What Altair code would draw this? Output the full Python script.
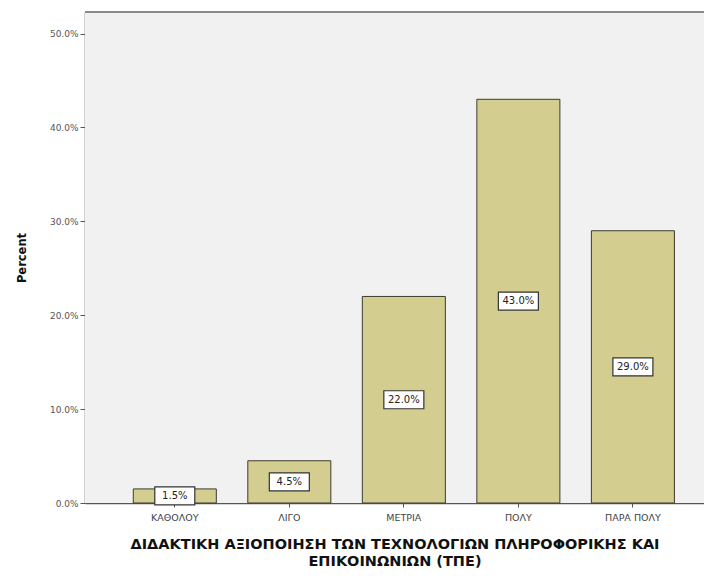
import altair as alt
import pandas as pd

categories = ["ΚΑΘΟΛΟΥ", "ΛΙΓΟ", "ΜΕΤΡΙΑ", "ΠΟΛΥ", "ΠΑΡΑ ΠΟΛΥ"]
percents = [1.5, 4.5, 22.0, 43.0, 29.0]
y_ticks = [0, 10, 20, 30, 40, 50]

df = pd.DataFrame({"cat": categories, "pct": percents})
df["mid"] = df["pct"] / 2
df["label"] = df["pct"].map(lambda v: f"{v:.1f}%")

FONT = "DejaVu Sans"
W, H = 619, 491

x_enc = alt.X(
    "cat:N",
    sort=categories,
    scale=alt.Scale(paddingInner=0.275, paddingOuter=0.34, align=0.62),
    axis=alt.Axis(
        title=["ΔΙΔΑΚΤΙΚΗ ΑΞΙΟΠΟΙΗΣΗ ΤΩΝ ΤΕΧΝΟΛΟΓΙΩΝ ΠΛΗΡΟΦΟΡΙΚΗΣ ΚΑΙ",
               "ΕΠΙΚΟΙΝΩΝΙΩΝ (ΤΠΕ)"],
        titleFont=FONT, titleFontSize=14.5, titleFontWeight="bold", titleColor="#111",
        titleLineHeight=16.5, titlePadding=16,
        labelFont=FONT, labelFontSize=9.5, labelColor="#444", labelAngle=0, labelPadding=5,
        tickSize=4, tickColor="#555", domainColor="#555", domainWidth=1.5,
    ),
)

y_scale = alt.Scale(domain=[0, 52.3], nice=False)

background = alt.Chart(df).mark_rect(color="#f1f1f1").encode(
    x=alt.value(0), x2=alt.value(W), y=alt.value(0), y2=alt.value(H)
)

bars = alt.Chart(df).mark_bar(
    color="#d3cd90", stroke="#3c3c30", strokeWidth=1
).encode(
    x=x_enc,
    y=alt.Y(
        "pct:Q",
        scale=y_scale,
        axis=alt.Axis(
            title="Percent", titleFont=FONT, titleFontSize=11.5, titleFontWeight="bold",
            titleColor="#111", titlePadding=22,
            values=y_ticks, labelExpr="format(datum.value, '.1f') + '%'",
            labelFont=FONT, labelFontSize=9, labelColor="#555", labelPadding=2,
            tickSize=5, tickColor="#555", domainColor="#555", domainWidth=1.5,
            grid=False,
        ),
    ),
)

boxes = alt.Chart(df).mark_point(
    shape="M-1,-0.45L1,-0.45L1,0.45L-1,0.45Z",
    size=1600, filled=True, fill="white", stroke="#333", strokeWidth=1.2, opacity=1,
).encode(x=alt.X("cat:N", sort=categories), y=alt.Y("mid:Q", scale=y_scale))

texts = alt.Chart(df).mark_text(
    font=FONT, fontSize=10, color="#222"
).encode(x=alt.X("cat:N", sort=categories), y=alt.Y("mid:Q", scale=y_scale), text="label:N")

frame = alt.Chart(df).mark_rule(color="#8a8a8a", strokeWidth=2).encode(
    x=alt.value(0), x2=alt.value(W), y=alt.value(0)
)

chart = alt.layer(background, bars, boxes, texts, frame).properties(
    width=W, height=H,
    autosize=alt.AutoSizeParams(type="none"),
    padding={"left": 77, "top": 4, "right": 0, "bottom": 70},
).configure_view(stroke=None).configure(background="white")

chart.save("out.html", embed_options={"renderer": "svg", "actions": False})
